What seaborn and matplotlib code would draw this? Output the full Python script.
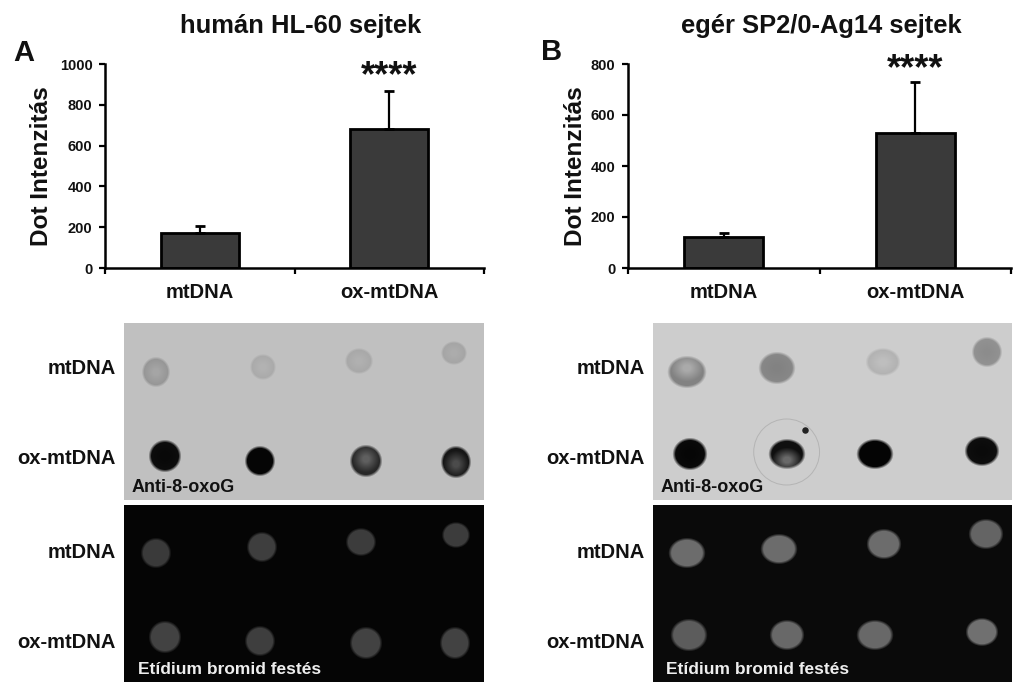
import numpy as np
import pandas as pd
import seaborn as sns
import matplotlib
matplotlib.use("Agg")
import matplotlib.pyplot as plt
from matplotlib.patches import Circle

sns.set_theme(style="white")
plt.rcParams['font.family'] = ['Liberation Sans', 'DejaVu Sans']
plt.rcParams['font.weight'] = 'bold'

W, H = 1024, 695

cats = ["mtDNA", "ox-mtDNA"]
means_a = [171, 680]
upper_a = [207, 866]
means_b = [120, 529]
upper_b = [138, 731]

# blot spots, pixels inside each panel: x, y, rx, ry, grey, grey in the middle
a_top_x = [32, 139, 235, 330, 41, 136, 242, 332]
a_top_y = [49, 44, 38, 30, 133, 138, 138, 139]
a_top_rx = [13, 12, 13, 12, 15, 14, 15, 14]
a_top_ry = [14, 12, 12, 11, 15, 14, 15, 15]
a_top_grey = [150, 170, 168, 165, 12, 5, 40, 22]
a_top_core = [165, 178, 176, 172, 8, 5, 95, 75]
a_top_shift = [0, 0, 0, 0, 0, 0, -2, 2]

a_bot_x = [32, 138, 237, 332, 41, 136, 242, 331]
a_bot_y = [48, 42, 37, 30, 132, 136, 138, 138]
a_bot_rx = [14, 14, 14, 13, 15, 14, 15, 14]
a_bot_ry = [14, 14, 13, 12, 15, 14, 15, 15]
a_bot_grey = [58, 62, 60, 60, 66, 62, 66, 66]
a_bot_core = [58, 62, 60, 60, 66, 62, 66, 66]
a_bot_shift = [0, 0, 0, 0, 0, 0, 0, 0]

b_top_x = [34, 124, 231, 335, 37, 134, 223, 330]
b_top_y = [49, 45, 39, 29, 131, 131, 131, 128]
b_top_rx = [18, 17, 16, 14, 16, 17, 17, 16]
b_top_ry = [15, 15, 13, 14, 15, 14, 14, 14]
b_top_grey = [130, 135, 178, 145, 10, 15, 4, 14]
b_top_core = [170, 130, 190, 140, 6, 105, 4, 10]
b_top_shift = [-4, 0, 0, 0, 0, 6, 0, 0]

b_bot_x = [34, 126, 232, 334, 36, 134, 223, 330]
b_bot_y = [48, 44, 39, 29, 130, 130, 130, 127]
b_bot_rx = [17, 17, 16, 16, 17, 16, 17, 15]
b_bot_ry = [14, 14, 14, 14, 15, 14, 14, 13]
b_bot_grey = [108, 108, 108, 100, 92, 104, 104, 112]
b_bot_core = [108, 108, 108, 100, 92, 104, 104, 112]
b_bot_shift = [0, 0, 0, 0, 0, 0, 0, 0]


def add_axes_px(fig, x0, y0, x1, y1):
    return fig.add_axes([x0 / W, 1 - y1 / H, (x1 - x0) / W, (y1 - y0) / H])


def bars(ax, means, upper, ymax, yticks):
    df = pd.DataFrame({"group": cats, "value": means})
    sns.barplot(data=df, x="group", y="value", color="#3a3a3a", saturation=1,
                width=0.41, edgecolor="black", linewidth=2, errorbar=None, ax=ax)
    err = np.array(upper) - np.array(means)
    ax.errorbar([0, 1], means, yerr=[[0, 0], err], fmt="none", ecolor="black",
                elinewidth=1.6, capsize=3.5, capthick=2)
    ax.set_xlim(-0.5, 1.5)
    ax.set_ylim(0, ymax)
    ax.set_yticks(yticks)
    ax.set_xticks([0, 1])
    ax.set_xticks([-0.5, 0.5, 1.5], minor=True)
    ax.tick_params(axis="x", which="major", length=0, pad=11, labelsize=14.5)
    ax.tick_params(axis="x", which="minor", length=4, width=1.6, color="black", bottom=True)
    ax.tick_params(axis="y", length=4, width=1.6, color="black", left=True, pad=5, labelsize=10.5)
    ax.set_xlabel("")
    ax.set_ylabel("")
    for lab in ax.get_xticklabels() + ax.get_yticklabels():
        lab.set_color("#111111")
        lab.set_fontweight("bold")
    sns.despine(ax=ax)
    ax.spines["left"].set_linewidth(1.8)
    ax.spines["bottom"].set_linewidth(1.8)
    ax.spines["left"].set_color("black")
    ax.spines["bottom"].set_color("black")


def blot(ax, bg, xs, ys, rxs, rys, greys, cores, shifts):
    w, h = 360, 177
    yy, xx = np.mgrid[0:h, 0:w]
    img = np.full((h, w), float(bg))
    for x, y, rx, ry, g, c, s in zip(xs, ys, rxs, rys, greys, cores, shifts):
        d = np.sqrt(((xx + .5 - x) / rx) ** 2 + ((yy + .5 - y) / ry) ** 2)
        d2 = np.sqrt(((xx + .5 - x) / rx) ** 2 + ((yy + .5 - y - s) / ry) ** 2)
        mask = np.clip((1.1 - d) / 0.2, 0, 1)
        core = np.clip((0.9 - d2) / 0.7, 0, 1)
        spot = g + (c - g) * core
        img = img * (1 - mask) + spot * mask
    sns.heatmap(img, cmap="gray", vmin=0, vmax=255, cbar=False, xticklabels=False,
                yticklabels=False, rasterized=True, ax=ax)


def row_labels(fig, x, y0):
    fig.text(x / W, 1 - (y0 + 46) / H, "mtDNA", ha="right", va="center", fontsize=14.5, color="#111111")
    fig.text(x / W, 1 - (y0 + 135) / H, "ox-mtDNA", ha="right", va="center", fontsize=14.5, color="#111111")


fig = plt.figure(figsize=(W / 100, H / 100), dpi=100)

ax_a = add_axes_px(fig, 105, 64, 484, 268)
bars(ax_a, means_a, upper_a, 1000, [0, 200, 400, 600, 800, 1000])
ax_b = add_axes_px(fig, 628, 64, 1011, 268)
bars(ax_b, means_b, upper_b, 800, [0, 200, 400, 600, 800])

ax_a.text(1, 939, "****", ha="center", va="center", fontsize=26, color="#111111")
ax_b.text(1, 779, "****", ha="center", va="center", fontsize=26, color="#111111")

fig.text(301 / W, 1 - 26 / H, "humán HL-60 sejtek", ha="center", va="center", fontsize=18.4, color="#111111")
fig.text(821 / W, 1 - 26 / H, "egér SP2/0-Ag14 sejtek", ha="center", va="center", fontsize=18.4, color="#111111")
fig.text(24 / W, 1 - 53 / H, "A", ha="center", va="center", fontsize=21, color="#111111")
fig.text(552 / W, 1 - 52 / H, "B", ha="center", va="center", fontsize=21, color="#111111")
fig.text(42 / W, 1 - 166 / H, "Dot Intenzitás", rotation=90, ha="center", va="center", fontsize=17.6, color="#111111")
fig.text(576 / W, 1 - 166 / H, "Dot Intenzitás", rotation=90, ha="center", va="center", fontsize=17.6, color="#111111")

ax1 = add_axes_px(fig, 124, 323, 484, 500)
blot(ax1, 192, a_top_x, a_top_y, a_top_rx, a_top_ry, a_top_grey, a_top_core, a_top_shift)
ax2 = add_axes_px(fig, 124, 505, 484, 682)
blot(ax2, 5, a_bot_x, a_bot_y, a_bot_rx, a_bot_ry, a_bot_grey, a_bot_core, a_bot_shift)
ax3 = add_axes_px(fig, 653, 323, 1012, 500)
blot(ax3, 205, b_top_x, b_top_y, b_top_rx, b_top_ry, b_top_grey, b_top_core, b_top_shift)
ax4 = add_axes_px(fig, 653, 505, 1012, 682)
blot(ax4, 10, b_bot_x, b_bot_y, b_bot_rx, b_bot_ry, b_bot_grey, b_bot_core, b_bot_shift)

# ring and speck on the second ox spot of panel B
ax3.add_patch(Circle((134, 129), 33, fill=False, edgecolor="#b4b4b4", linewidth=0.7))
ax3.scatter([152], [107], s=22, color="#222222", linewidths=0)

ax1.text(8, 165, "Anti-8-oxoG", ha="left", va="center", fontsize=13, color="#111111")
ax3.text(8, 165, "Anti-8-oxoG", ha="left", va="center", fontsize=13, color="#111111")
ax2.text(14, 165, "Etídium bromid festés", ha="left", va="center", fontsize=12.5, color="#eeeeee")
ax4.text(13, 165, "Etídium bromid festés", ha="left", va="center", fontsize=12.5, color="#eeeeee")

row_labels(fig, 116, 323)
row_labels(fig, 116, 507)
row_labels(fig, 645, 323)
row_labels(fig, 645, 507)

fig.savefig("out.png", dpi=100)
